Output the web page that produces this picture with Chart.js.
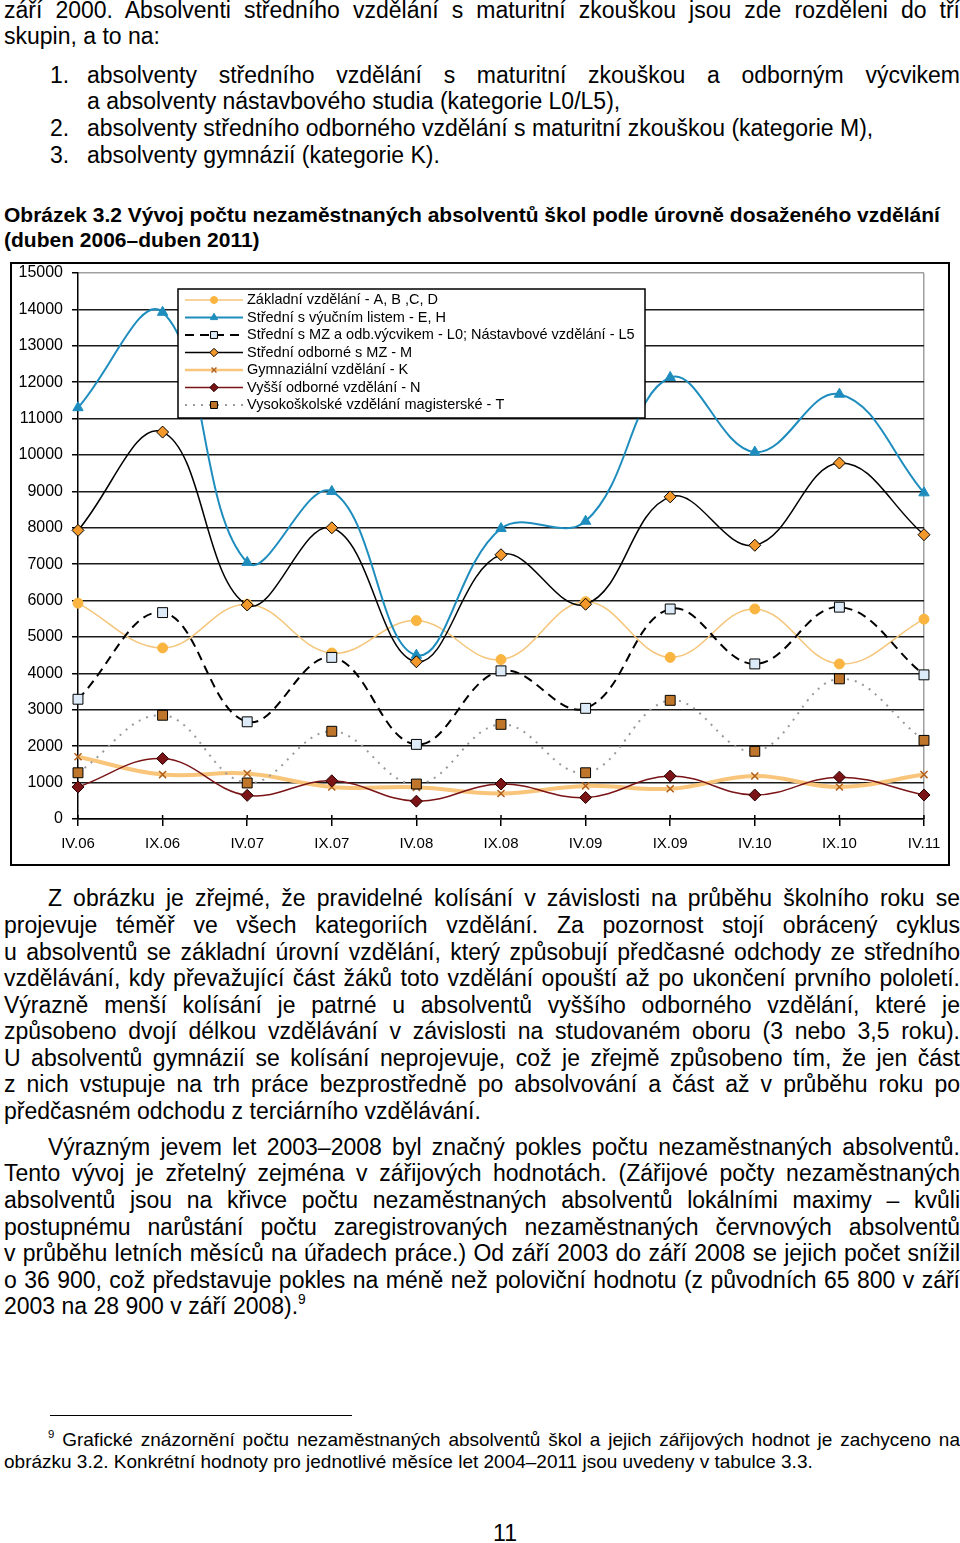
<!DOCTYPE html>
<html lang="cs">
<head>
<meta charset="utf-8">
<title>Obrázek 3.2</title>
<script src="https://cdn.jsdelivr.net/npm/chart.js@4.4.1/dist/chart.umd.min.js"></script>
<style>
  html, body { margin: 0; padding: 0; background: #fff; }
  body { width: 960px; height: 1543px; position: relative; overflow: hidden;
         font-family: "Liberation Sans", Arial, sans-serif; color: #000; }
  .ln { position: absolute; left: 4px; width: 956px; height: 26px; line-height: 26px;
        font-size: 23px; white-space: nowrap; }
  .j { text-align: justify; text-align-last: justify; }
  .cap { font-weight: bold; font-size: 21px; }
  .fn { font-size: 19px; height: 22px; line-height: 22px; }
  sup { font-size: 60%; line-height: 0; vertical-align: 0.7em; }
  #chartBox { position: absolute; left: 10px; top: 262px; width: 940px; height: 604px; }
</style>
</head>
<body>

<div class="ln j" style="top:-3px">září 2000. Absolventi středního vzdělání s maturitní zkouškou jsou zde rozděleni do tří</div>
<div class="ln" style="top:23px">skupin, a to na:</div>

<div class="ln" style="top:62px;left:50px;width:30px">1.</div>
<div class="ln j" style="top:62px;left:87px;width:873px">absolventy středního vzdělání s maturitní zkouškou a odborným výcvikem</div>
<div class="ln" style="top:88px;left:87px;width:873px">a absolventy nástavbového studia (kategorie L0/L5),</div>
<div class="ln" style="top:115px;left:50px;width:30px">2.</div>
<div class="ln" style="top:115px;left:87px;width:873px">absolventy středního odborného vzdělání s maturitní zkouškou (kategorie M),</div>
<div class="ln" style="top:142px;left:50px;width:30px">3.</div>
<div class="ln" style="top:142px;left:87px;width:873px">absolventy gymnázií (kategorie K).</div>

<div class="ln cap" style="top:202px">Obrázek 3.2 Vývoj počtu nezaměstnaných absolventů škol podle úrovně dosaženého vzdělání</div>
<div class="ln cap" style="top:227px">(duben 2006–duben 2011)</div>

<div id="chartBox"><canvas id="unemployedChart"></canvas></div>

<div class="ln j" style="top:885px;left:48px;width:912px">Z obrázku je zřejmé, že pravidelné kolísání v závislosti na průběhu školního roku se</div>
<div class="ln j" style="top:912px">projevuje téměř ve všech kategoriích vzdělání. Za pozornost stojí obrácený cyklus</div>
<div class="ln j" style="top:939px">u absolventů se základní úrovní vzdělání, který způsobují předčasné odchody ze středního</div>
<div class="ln j" style="top:965px">vzdělávání, kdy převažující část žáků toto vzdělání opouští až po ukončení prvního pololetí.</div>
<div class="ln j" style="top:992px">Výrazně menší kolísání je patrné u absolventů vyššího odborného vzdělání, které je</div>
<div class="ln j" style="top:1018px">způsobeno dvojí délkou vzdělávání v závislosti na studovaném oboru (3 nebo 3,5 roku).</div>
<div class="ln j" style="top:1045px">U absolventů gymnázií se kolísání neprojevuje, což je zřejmě způsobeno tím, že jen část</div>
<div class="ln j" style="top:1071px">z nich vstupuje na trh práce bezprostředně po absolvování a část až v průběhu roku po</div>
<div class="ln" style="top:1098px">předčasném odchodu z terciárního vzdělávání.</div>

<div class="ln j" style="top:1134px;left:48px;width:912px">Výrazným jevem let 2003–2008 byl značný pokles počtu nezaměstnaných absolventů.</div>
<div class="ln j" style="top:1160px">Tento vývoj je zřetelný zejména v zářijových hodnotách. (Zářijové počty nezaměstnaných</div>
<div class="ln j" style="top:1187px">absolventů jsou na křivce počtu nezaměstnaných absolventů lokálními maximy – kvůli</div>
<div class="ln j" style="top:1214px">postupnému narůstání počtu zaregistrovaných nezaměstnaných červnových absolventů</div>
<div class="ln j" style="top:1240px">v průběhu letních měsíců na úřadech práce.) Od září 2003 do září 2008 se jejich počet snížil</div>
<div class="ln j" style="top:1267px">o 36 900, což představuje pokles na méně než poloviční hodnotu (z původních 65 800 v září</div>
<div class="ln" style="top:1293px">2003 na 28 900 v září 2008).<sup>9</sup></div>

<div style="position:absolute;left:50px;top:1415px;width:302px;height:1px;background:#000"></div>
<div class="ln fn j" style="top:1429px;left:48px;width:912px"><sup>9</sup> Grafické znázornění počtu nezaměstnaných absolventů škol a jejich zářijových hodnot je zachyceno na</div>
<div class="ln fn" style="top:1451px">obrázku 3.2. Konkrétní hodnoty pro jednotlivé měsíce let 2004–2011 jsou uvedeny v tabulce 3.3.</div>

<div class="ln" style="top:1520px;left:455px;width:100px;text-align:center">11</div>

<script>
// duben / září 2006 - 2011
const months = ["IV.06", "IX.06", "IV.07", "IX.07", "IV.08", "IX.08", "IV.09", "IX.09", "IV.10", "IX.10", "IV.11"];

// počty nezaměstnaných absolventů podle kategorie vzdělání
const zakladni = [5930, 4700, 5900, 4560, 5450, 4380, 5970, 4440, 5770, 4260, 5490];
const vyucniList = [11300, 13920, 7050, 9000, 4500, 7980, 8180, 12130, 10080, 11670, 8960];
const mzVycvik = [3290, 5670, 2670, 4440, 2050, 4070, 3040, 5770, 4260, 5820, 3960];
const odborneMZ = [7930, 10630, 5880, 8000, 4320, 7260, 5900, 8850, 7520, 9780, 7810];
const gymnazium = [1710, 1220, 1250, 880, 870, 700, 910, 830, 1180, 880, 1220];
const vyssiOdborne = [880, 1660, 650, 1050, 490, 960, 590, 1180, 660, 1150, 660];
const vysokoskolske = [1270, 2850, 990, 2410, 960, 2600, 1270, 3260, 1860, 3850, 2160];

const yTicks = [0, 1000, 2000, 3000, 4000, 5000, 6000, 7000, 8000, 9000, 10000, 11000, 12000, 13000, 14000, 15000];

const FONT = '"Liberation Sans", Arial, sans-serif';

// legenda uvnitř grafu (jako v Excelu) + rámeček kolem celého obrázku
const boxLegend = {
  id: "boxLegend",
  afterDatasetsDraw(chart) {
    const ctx = chart.ctx;
    const left = 168, top = 27, w = 467, h = 129;
    ctx.save();
    ctx.fillStyle = "#fff";
    ctx.fillRect(left, top, w, h);
    ctx.strokeStyle = "#000";
    ctx.lineWidth = 1.5;
    ctx.strokeRect(left, top, w, h);

    chart.data.datasets.forEach((ds, i) => {
      const y = top + 11 + i * 17.5;
      ctx.beginPath();
      ctx.setLineDash(ds.borderDash || []);
      ctx.strokeStyle = ds.borderColor;
      ctx.lineWidth = Math.min(ds.borderWidth, 2.5);
      ctx.moveTo(left + 7, y);
      ctx.lineTo(left + 65, y);
      ctx.stroke();
      ctx.setLineDash([]);

      ctx.fillStyle = ds.pointBackgroundColor;
      ctx.strokeStyle = ds.pointBorderColor;
      ctx.lineWidth = ds.pointBorderWidth;
      Chart.helpers.drawPoint(ctx, {
        pointStyle: ds.pointStyle,
        radius: ds.pointRadius * 0.7,
        rotation: 0,
        borderWidth: ds.pointBorderWidth
      }, left + 36, y);

      ctx.fillStyle = "#000";
      ctx.font = "14.5px " + FONT;
      ctx.textBaseline = "middle";
      ctx.textAlign = "left";
      ctx.fillText(ds.label, left + 69, y);
    });
    ctx.restore();
  },
  afterDraw(chart) {
    const ctx = chart.ctx;
    const x = chart.scales.x;
    ctx.save();
    // zářezy osy x procházejí přes osu (jako v Excelu)
    ctx.strokeStyle = "#000";
    ctx.lineWidth = 1.5;
    months.forEach((m, i) => {
      const px = x.getPixelForValue(i);
      ctx.beginPath();
      ctx.moveTo(px, x.top - 4);
      ctx.lineTo(px, x.top);
      ctx.stroke();
    });
    ctx.lineWidth = 2;
    ctx.strokeRect(1, 1, chart.width - 2, chart.height - 2);
    ctx.restore();
  }
};

function series(label, data, opts, order) {
  return Object.assign({
    label: label,
    data: data,
    borderWidth: 1.5,
    tension: 0.4,
    pointRadius: 6,
    pointHoverRadius: 6,
    pointBorderWidth: 1,
    borderDash: [],
    order: order
  }, opts);
}

const ctx = document.getElementById("unemployedChart").getContext("2d");
new Chart(ctx, {
  type: "line",
  data: {
    labels: months,
    datasets: [
      series("Základní vzdělání - A, B ,C, D", zakladni, {
        borderColor: "#F5C57A", pointStyle: "circle", pointRadius: 5,
        pointBackgroundColor: "#FAB541", pointBorderColor: "#FAB541"
      }, 6),
      series("Střední s výučním listem - E, H", vyucniList, {
        borderColor: "#1E8DBE", borderWidth: 2, pointStyle: "triangle", pointRadius: 6,
        pointBackgroundColor: "#1E8DBE", pointBorderColor: "#1E8DBE"
      }, 5),
      series("Střední s MZ a odb.výcvikem - L0; Nástavbové vzdělání - L5", mzVycvik, {
        borderColor: "#000", borderWidth: 2, borderDash: [9, 6], pointStyle: "rect", pointRadius: 7,
        pointBackgroundColor: "#DCEBF7", pointBorderColor: "#000"
      }, 4),
      series("Střední odborné s MZ - M", odborneMZ, {
        borderColor: "#000", pointStyle: "rectRot", pointRadius: 6,
        pointBackgroundColor: "#F3992B", pointBorderColor: "#000"
      }, 3),
      series("Gymnaziální vzdělání - K", gymnazium, {
        borderColor: "#F8C57A", borderWidth: 4, pointStyle: "crossRot", pointRadius: 5,
        pointBackgroundColor: "#B0601E", pointBorderColor: "#B0601E", pointBorderWidth: 1.5
      }, 2),
      series("Vyšší odborné vzdělání - N", vyssiOdborne, {
        borderColor: "#7A1416", pointStyle: "rectRot", pointRadius: 6,
        pointBackgroundColor: "#7A1416", pointBorderColor: "#2A0000"
      }, 1),
      series("Vysokoškolské vzdělání magisterské - T", vysokoskolske, {
        borderColor: "#9A9A9A", borderWidth: 2, borderDash: [2, 6], pointStyle: "rect", pointRadius: 7,
        pointBackgroundColor: "#C0762A", pointBorderColor: "#000"
      }, 0)
    ]
  },
  options: {
    responsive: true,
    maintainAspectRatio: false,
    animation: false,
    events: [],
    layout: { padding: { top: 11, right: 26, left: 0, bottom: 0 } },
    plugins: {
      legend: { display: false },
      tooltip: { enabled: false }
    },
    scales: {
      x: {
        offset: false,
        border: { color: "#000", width: 1.5 },
        grid: {
          drawOnChartArea: true,
          drawTicks: true,
          tickLength: 7,
          lineWidth: 1.5,
          tickColor: "#000",
          color: (c) => (c.index === months.length - 1 ? "#A0A0A0" : "rgba(0,0,0,0)")
        },
        ticks: {
          color: "#000",
          font: { family: FONT, size: 15 },
          padding: 9,
          autoSkip: false,
          maxRotation: 0
        },
        afterFit(scale) { scale.height = 47; scale.paddingLeft = 0; scale.paddingRight = 0; }
      },
      y: {
        min: 0,
        max: 15000,
        border: { color: "#000", width: 1.5 },
        afterBuildTicks(scale) { scale.ticks = yTicks.map((v) => ({ value: v })); },
        grid: {
          lineWidth: 1.5,
          tickLength: 6,
          tickColor: "#000",
          color: (c) => (c.tick && c.tick.value === 15000 ? "#A0A0A0" : "#1a1a1a")
        },
        ticks: {
          color: "#000",
          font: { family: FONT, size: 16 },
          padding: 9,
          callback: (v) => String(v)
        },
        afterFit(scale) { scale.width = 68; scale.paddingTop = 0; scale.paddingBottom = 0; }
      }
    }
  },
  plugins: [boxLegend]
});
</script>
</body>
</html>
